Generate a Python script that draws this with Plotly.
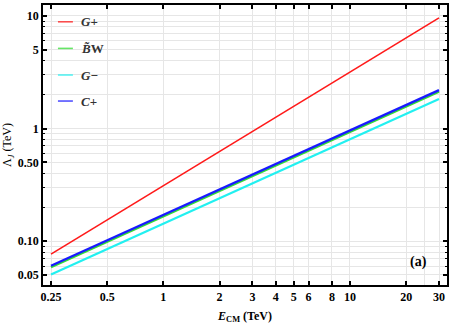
import plotly.graph_objects as go

# ---- data ----
E_CM = [0.25, 0.5, 1, 2, 5, 10, 20, 30]
G_plus = [0.0765, 0.154, 0.31, 0.624, 1.57, 3.16, 6.37, 9.62]
BW = [0.0585, 0.0984, 0.1654, 0.278, 0.553, 0.931, 1.565, 2.12]
G_minus = [0.0505, 0.0849, 0.1428, 0.240, 0.478, 0.803, 1.351, 1.83]
C_plus = [0.0604, 0.1016, 0.1708, 0.287, 0.571, 0.961, 1.616, 2.19]

series_names = ["<i>G</i>+", "<i>B̃</i>W", "<i>G</i>−", "<i>C</i>+"]
series_vals = [G_plus, BW, G_minus, C_plus]
series_colors = ["#ff1a1a", "#33dd33", "#22f0f0", "#1a1aff"]
series_widths = [1.6, 2.2, 2.2, 2.4]

x_tickvals = [0.25, 0.5, 1, 2, 3, 4, 5, 6, 8, 10, 20, 30]
x_ticktext = ["0.25", "0.5", "1", "2", "3", "4", "5", "6", "8", "10", "20", "30"]
y_tickvals = [0.05, 0.1, 0.5, 1, 5, 10]
y_ticktext = ["0.05", "0.10", "0.50", "1", "5", "10"]
y_minor = [0.06, 0.07, 0.08, 0.09, 0.2, 0.3, 0.4, 0.6, 0.7, 0.8, 0.9,
           2, 3, 4, 6, 7, 8, 9]

FONT = "Liberation Serif"

fig = go.Figure()
for name, vals, col, w in zip(series_names, series_vals, series_colors, series_widths):
    fig.add_trace(go.Scatter(x=E_CM, y=vals, mode="lines", name=name,
                             line=dict(color=col, width=w), showlegend=False))

# manual legend (line samples + labels) in paper coordinates
leg_y = [0.94, 0.845, 0.75, 0.657]
for name, col, yy in zip(series_names, series_colors, leg_y):
    fig.add_shape(type="line", xref="paper", yref="paper",
                  x0=0.037, x1=0.074, y0=yy, y1=yy,
                  line=dict(color=col, width=1.6), opacity=0.75)
    fig.add_annotation(xref="paper", yref="paper", x=0.09, y=yy,
                       text="<b>" + name + "</b>", showarrow=False,
                       xanchor="left", yanchor="middle",
                       font=dict(family=FONT, size=13, color="#333"))

fig.add_annotation(xref="paper", yref="paper", x=0.93, y=0.083,
                   text="<b>(a)</b>", showarrow=False,
                   xanchor="center", yanchor="middle",
                   font=dict(family=FONT, size=14, color="black"))

fig.update_layout(
    width=452, height=327,
    margin=dict(l=43, r=3, t=3, b=42),
    paper_bgcolor="white", plot_bgcolor="white",
    font=dict(family=FONT, size=12, color="black"),
    xaxis=dict(
        type="log", range=[-0.645, 1.52],
        tickmode="array", tickvals=x_tickvals,
        ticktext=["<b>" + t + "</b>" for t in x_ticktext],
        ticks="inside", ticklen=4, tickwidth=1.5, tickcolor="black",
        showline=True, linewidth=1.6, linecolor="black", mirror="allticks",
        showgrid=True, gridcolor="#e6e6e6", gridwidth=1,
        minor=dict(tickvals=[25], ticks="", showgrid=True,
                   gridcolor="#e6e6e6", gridwidth=1),
        title=dict(text="<b><i>E</i><sub>CM</sub> (TeV)</b>", standoff=8,
                   font=dict(family=FONT, size=12)),
        zeroline=False,
    ),
    yaxis=dict(
        type="log", range=[-1.39, 1.097],
        tickmode="array", tickvals=y_tickvals,
        ticktext=["<b>" + t + "</b>" for t in y_ticktext],
        ticks="inside", ticklen=4, tickwidth=1.5, tickcolor="black",
        showline=True, linewidth=1.6, linecolor="black", mirror="allticks",
        showgrid=True, gridcolor="#e6e6e6", gridwidth=1,
        minor=dict(tickvals=y_minor, ticks="inside", ticklen=2.5,
                   tickwidth=1, tickcolor="black", showgrid=True,
                   gridcolor="#e6e6e6", gridwidth=1),
        title=dict(text="Λ<sub><i>J</i></sub> (TeV)", standoff=6,
                   font=dict(family=FONT, size=12)),
        zeroline=False,
    ),
)

fig.write_html(
    "out.html",
    config={"displayModeBar": False},
    post_script="document.body.style.margin='0';document.body.style.padding='0';",
)
